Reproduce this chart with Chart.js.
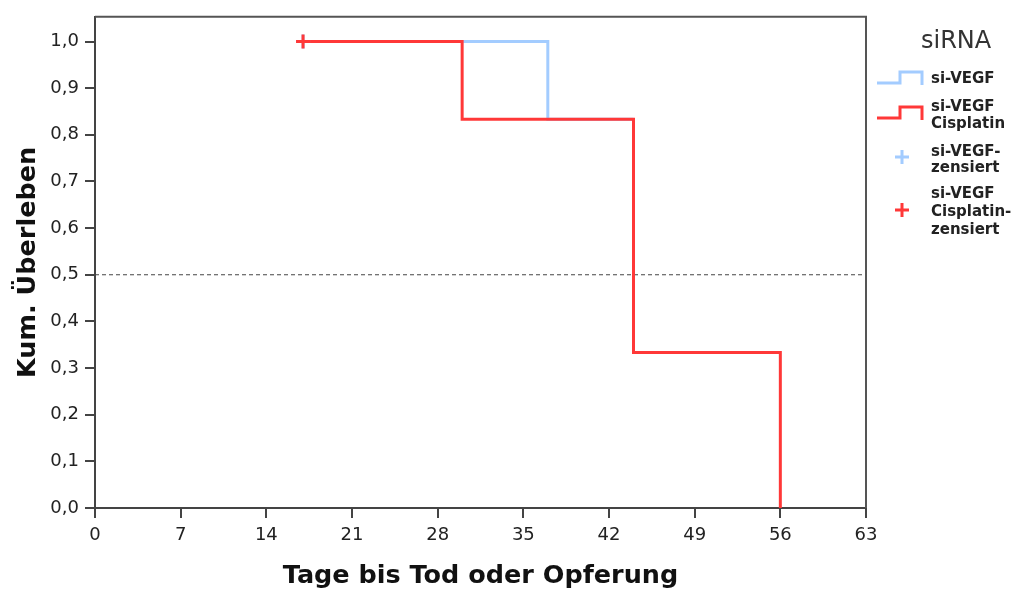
<!DOCTYPE html>
<html>
<head>
<meta charset="utf-8">
<script src="https://cdn.jsdelivr.net/npm/chart.js@4"></script>
<style>
  html, body { margin: 0; padding: 0; background: #fff; }
  #chart { display: block; }
</style>
</head>
<body>
<canvas id="chart" width="1012" height="590"></canvas>
<script>
// Kaplan-Meier Daten (Zeit in Tagen, kumulatives Überleben)
const timesCis = [17, 30, 44, 56];
const survCis = [1.0, 0.8333, 0.3333, 0.0];
const timesVegf = [17, 37, 44];
const survVegf = [1.0, 0.8333, 0.8333];
const censorCis = [[17, 1.0]];
const censorVegf = [[17, 1.0]];
const xTicks = [0, 7, 14, 21, 28, 35, 42, 49, 56, 63];
const yTicks = [0, 0.1, 0.2, 0.3, 0.4, 0.5, 0.6, 0.7, 0.8, 0.9, 1.0];
const medianLine = [[0, 0.5], [63, 0.5]];

const groupLabels = ["si-VEGF", "si-VEGF Cisplatin"];
const legendTitle = "siRNA";

const FONT = "'DejaVu Sans', Verdana, sans-serif";
const RED = "#ff3838";
const BLUE = "#a3ccff";

const toPoints = (xs, ys) => xs.map((x, i) => ({ x: x, y: ys[i] }));
const pairs = (arr) => arr.map((p) => ({ x: p[0], y: p[1] }));

// Rahmen oben und rechts um die Plotfläche
const framePlugin = {
  id: "frame",
  afterDraw(chart) {
    const { ctx, chartArea: a } = chart;
    ctx.save();
    ctx.strokeStyle = "#555";
    ctx.lineWidth = 2;
    ctx.beginPath();
    ctx.moveTo(a.left, a.top);
    ctx.lineTo(a.right, a.top);
    ctx.lineTo(a.right, a.bottom);
    ctx.stroke();
    ctx.restore();
  },
};

// Legende mit Treppen-Symbolen und Zensierungskreuzen
const legendPlugin = {
  id: "kmLegend",
  afterDraw(chart) {
    const ctx = chart.ctx;
    ctx.save();
    ctx.fillStyle = "#333";
    ctx.font = "24px " + FONT;
    ctx.textBaseline = "middle";
    ctx.fillText(legendTitle, 921, 42);

    function step(color, yLow, yHigh) {
      ctx.strokeStyle = color;
      ctx.lineWidth = 3;
      ctx.beginPath();
      ctx.moveTo(877, yLow);
      ctx.lineTo(900, yLow);
      ctx.lineTo(900, yHigh);
      ctx.lineTo(922, yHigh);
      ctx.lineTo(922, yLow + 2);
      ctx.stroke();
    }
    function cross(color, x, y) {
      ctx.strokeStyle = color;
      ctx.lineWidth = 3;
      ctx.beginPath();
      ctx.moveTo(x - 7, y);
      ctx.lineTo(x + 7, y);
      ctx.moveTo(x, y - 7);
      ctx.lineTo(x, y + 7);
      ctx.stroke();
    }
    function lines(texts, x, y0, lh) {
      ctx.fillStyle = "#222";
      ctx.font = "bold 15px " + FONT;
      texts.forEach((t, i) => ctx.fillText(t, x, y0 + i * lh));
    }

    step(BLUE, 83, 72);
    lines(["si-VEGF"], 931, 79, 17);
    step(RED, 118, 107);
    lines(["si-VEGF", "Cisplatin"], 931, 107, 17);
    cross(BLUE, 902, 157);
    lines(["si-VEGF-", "zensiert"], 931, 152, 16);
    cross(RED, 902, 210);
    lines(["si-VEGF", "Cisplatin-", "zensiert"], 931, 194, 18);
    ctx.restore();
  },
};

const axisColor = "#444";

new Chart(document.getElementById("chart"), {
  type: "line",
  data: {
    datasets: [
      {
        label: groupLabels[1] + "-zensiert",
        data: pairs(censorCis),
        showLine: false,
        pointStyle: "cross",
        pointRadius: 7,
        pointBorderWidth: 3,
        borderColor: RED,
        backgroundColor: RED,
      },
      {
        label: groupLabels[0] + "-zensiert",
        data: pairs(censorVegf),
        showLine: false,
        pointStyle: "cross",
        pointRadius: 7,
        pointBorderWidth: 3,
        borderColor: BLUE,
        backgroundColor: BLUE,
      },
      {
        label: groupLabels[1],
        data: toPoints(timesCis, survCis),
        stepped: "before",
        borderColor: RED,
        borderWidth: 3,
        pointRadius: 0,
      },
      {
        label: groupLabels[0],
        data: toPoints(timesVegf, survVegf),
        stepped: "before",
        borderColor: BLUE,
        borderWidth: 3,
        pointRadius: 0,
      },
      {
        label: "Median",
        data: pairs(medianLine),
        borderColor: "#444",
        borderWidth: 1,
        borderDash: [4, 3],
        pointRadius: 0,
      },
    ],
  },
  options: {
    responsive: false,
    animation: false,
    layout: { padding: { left: 0, right: 146, top: 15, bottom: 0 } },
    plugins: {
      legend: { display: false },
      tooltip: { enabled: false },
    },
    scales: {
      x: {
        type: "linear",
        min: 0,
        max: 63,
        afterBuildTicks: (s) => { s.ticks = xTicks.map((v) => ({ value: v })); },
        afterFit: (s) => { s.height = 82; },
        ticks: {
          color: "#222",
          font: { family: FONT, size: 18 },
          padding: 7,
          maxRotation: 0,
        },
        grid: {
          drawOnChartArea: false,
          drawTicks: true,
          tickLength: 10,
          color: axisColor,
          lineWidth: 2,
        },
        border: { display: true, color: axisColor, width: 2 },
        title: {
          display: true,
          text: "Tage bis Tod oder Opferung",
          color: "#111",
          font: { family: FONT, size: 25.5, weight: "bold" },
          padding: { top: 0, bottom: -2 },
        },
      },
      y: {
        type: "linear",
        min: 0,
        max: 1.053,
        afterBuildTicks: (s) => { s.ticks = yTicks.map((v) => ({ value: v })); },
        afterFit: (s) => { s.width = 95; },
        ticks: {
          color: "#222",
          font: { family: FONT, size: 18 },
          padding: 6,
          callback: (v) => v.toFixed(1).replace(".", ","),
        },
        grid: {
          drawOnChartArea: false,
          drawTicks: true,
          tickLength: 10,
          color: axisColor,
          lineWidth: 2,
        },
        border: { display: true, color: axisColor, width: 2 },
        title: {
          display: true,
          text: "Kum. Überleben",
          color: "#111",
          font: { family: FONT, size: 25.5, weight: "bold" },
          padding: { top: 13, bottom: 0 },
        },
      },
    },
  },
  plugins: [framePlugin, legendPlugin],
});
</script>
</body>
</html>
